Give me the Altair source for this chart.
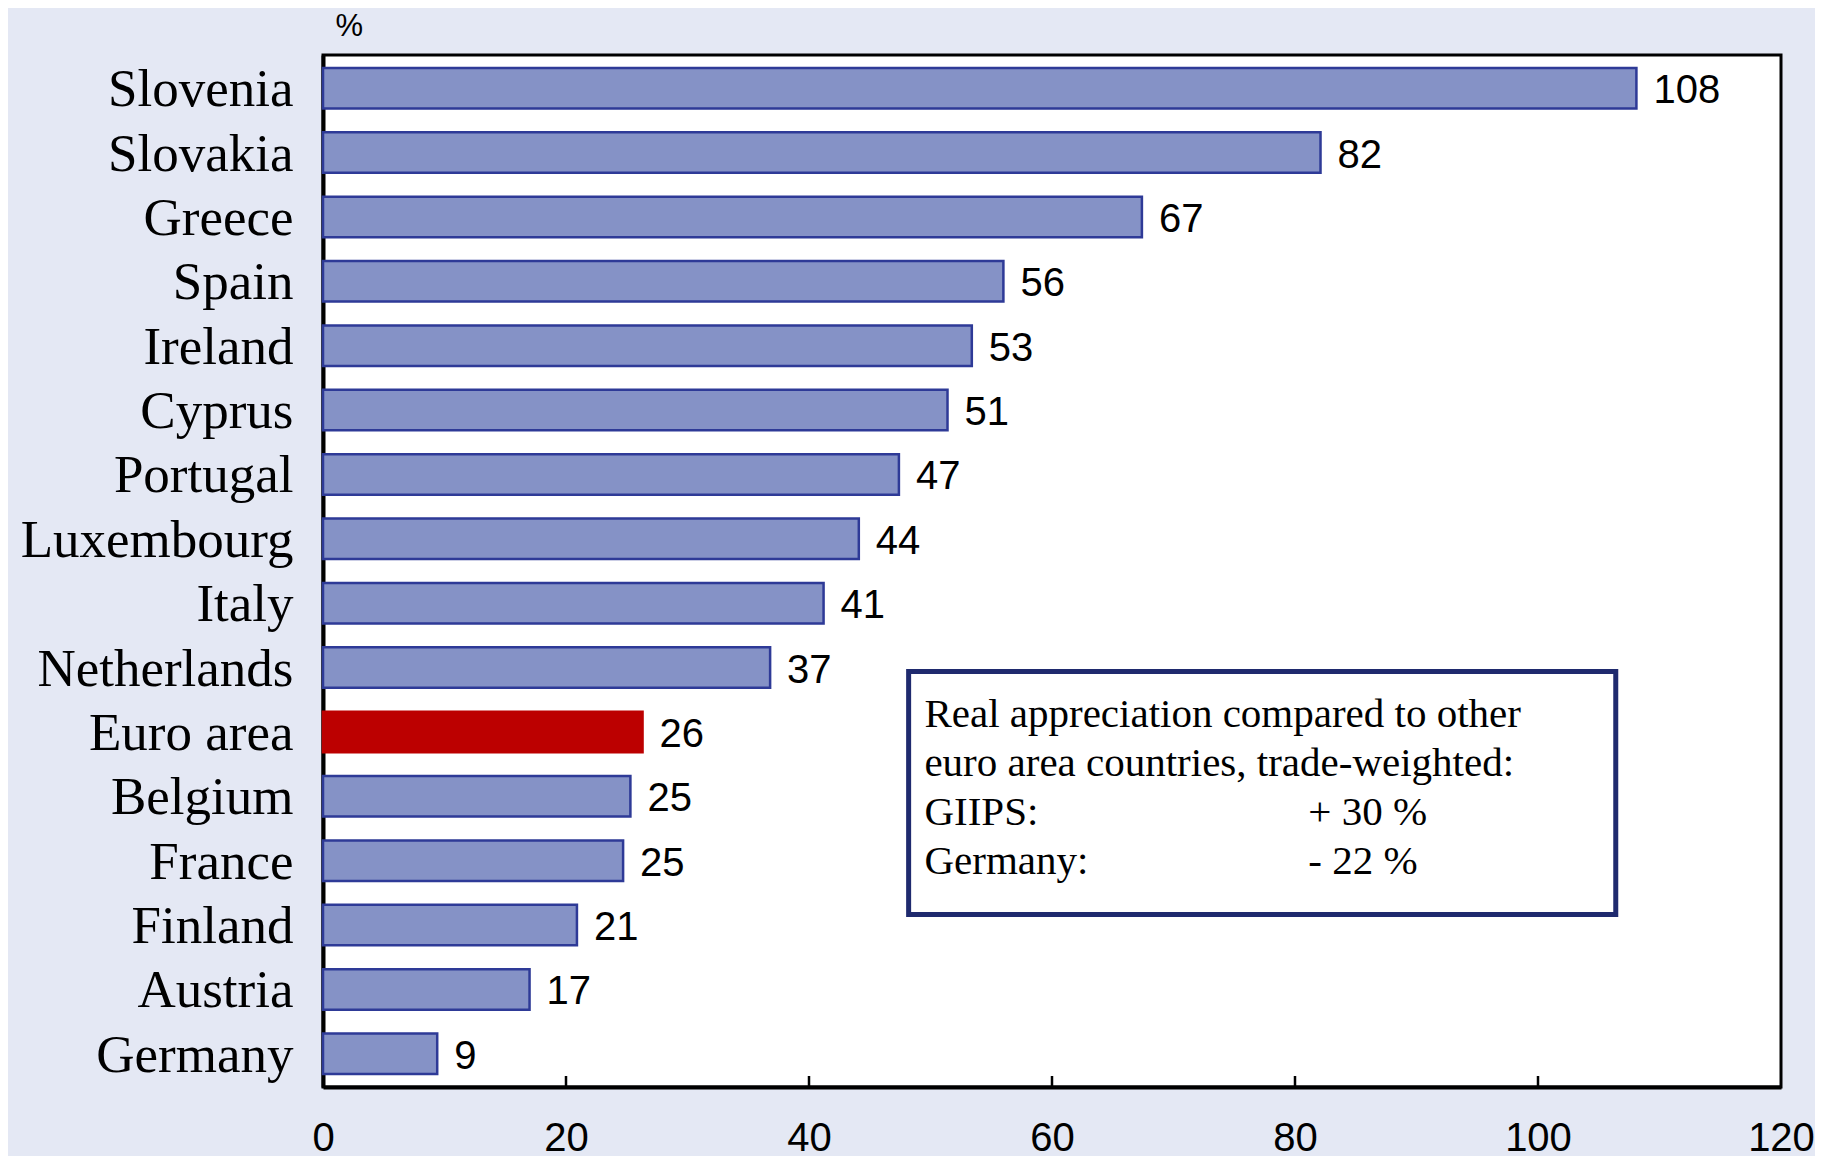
import altair as alt
import pandas as pd

countries = ["Slovenia", "Slovakia", "Greece", "Spain", "Ireland", "Cyprus", "Portugal",
             "Luxembourg", "Italy", "Netherlands", "Euro area", "Belgium", "France",
             "Finland", "Austria", "Germany"]
values = [108.1, 82.1, 67.4, 56.0, 53.4, 51.4, 47.4, 44.1, 41.2, 36.8, 26.3, 25.3, 24.7,
          20.9, 17.0, 9.4]
x_ticks = [0, 20, 40, 60, 80, 100, 120]
inner_ticks = [20, 40, 60, 80, 100]

note_lines = ["Real appreciation compared to other", "euro area countries, trade-weighted:",
              "GIIPS:", "Germany:"]
note_values = ["+ 30 %", "- 22 %"]

W, H = 1458, 1032
SERIF = "Liberation Serif"
SANS = "Liberation Sans"

df = pd.DataFrame({"country": countries, "value": values})

y_enc = alt.Y("country:N", sort=countries,
              scale=alt.Scale(paddingInner=0.37, paddingOuter=0.2),
              axis=alt.Axis(title="%", titleAngle=0, titleX=12, titleY=-29,
                            titleAlign="left", titleBaseline="middle",
                            titleFont=SANS, titleFontSize=31, titleFontWeight="normal",
                            titleColor="black",
                            labelFont=SERIF, labelFontSize=53, labelColor="black",
                            labelPadding=30, labelOffset=2, ticks=False,
                            domainColor="black", domainWidth=4, labelLimit=400))
x_enc = alt.X("value:Q", scale=alt.Scale(domain=[0, 120], nice=False),
              axis=alt.Axis(title=None, values=x_ticks, labelFont=SANS, labelFontSize=40,
                            labelColor="black", labelPadding=31, ticks=False,
                            domainColor="black", domainWidth=4, grid=False,
                            labelFlush=False))

base = alt.Chart(df)

is_euro = alt.datum.country == "Euro area"
bars = base.mark_bar(strokeWidth=2.5).encode(
    y=y_enc, x=x_enc,
    fill=alt.condition(is_euro, alt.value("#BC0000"), alt.value("#8592C6")),
    stroke=alt.condition(is_euro, alt.value("#BC0000"), alt.value("#2E3A97")),
)

labels = base.mark_text(align="left", baseline="middle", dx=17, dy=3, font=SANS,
                        fontSize=40, color="black").encode(
    y=alt.Y("country:N", sort=countries), x="value:Q",
    text=alt.Text("value:Q", format=".0f"),
)

ticks = alt.Chart(pd.DataFrame({"t": inner_ticks})).mark_rule(
    color="black", strokeWidth=2.5).encode(
    x="t:Q", y=alt.value(H), y2=alt.value(H - 11))

box = alt.Chart(pd.DataFrame({"x1": [48.2], "x2": [106.4]})).mark_rect(
    fill="white", stroke="#1F2A6E", strokeWidth=5).encode(
    x="x1:Q", x2="x2:Q", y=alt.value(616.5), y2=alt.value(859.5))

note_df = pd.DataFrame({"lbl": ["\n".join(note_lines)], "val": ["\n".join(note_values)],
                        "xl": [49.5], "xv": [81.1]})
note_text = alt.Chart(note_df).mark_text(
    align="left", baseline="alphabetic", font=SERIF, fontSize=41, color="black",
    lineBreak="\n", lineHeight=49).encode(
    x="xl:Q", y=alt.value(672), text="lbl:N")
note_vals = alt.Chart(note_df).mark_text(
    align="left", baseline="alphabetic", font=SERIF, fontSize=41, color="black",
    lineBreak="\n", lineHeight=49).encode(
    x="xv:Q", y=alt.value(672 + 2 * 49), text="val:N")

chart = alt.layer(bars, labels, ticks, box, note_text, note_vals).properties(
    width=W, height=H,
    background="#E4E8F4",
    padding={"left": 315, "top": 47, "right": 34, "bottom": 72},
    autosize=alt.AutoSizeParams(type="none"),
).configure_view(fill="white", stroke="black", strokeWidth=3)

chart.save("out.html", embed_options={"renderer": "svg", "actions": False})
